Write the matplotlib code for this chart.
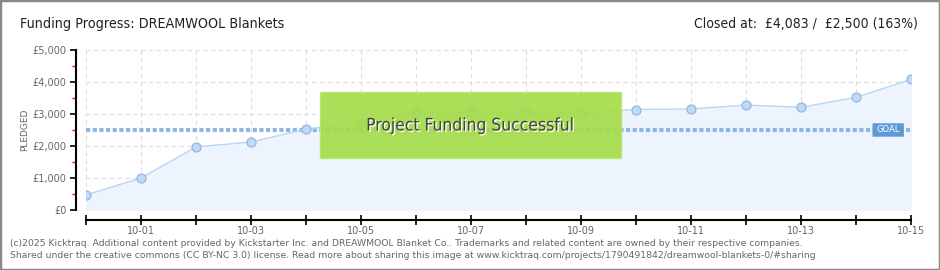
import matplotlib
matplotlib.use("Agg")
from matplotlib import pyplot as plt
from matplotlib.patches import Rectangle, FancyBboxPatch
import matplotlib.patheffects as pe

# daily pledged totals (GBP)
days = ['09-30', '10-01', '10-02', '10-03', '10-04', '10-05', '10-06', '10-07',
        '10-08', '10-09', '10-10', '10-11', '10-12', '10-13', '10-14', '10-15']
pledged = [470, 1000, 1970, 2125, 2530, 2720, 3030, 3060,
           3060, 3030, 3140, 3160, 3280, 3210, 3520, 4083]
goal = 2500
yticks = [0, 1000, 2000, 3000, 4000, 5000]
ytick_labels = ['£0', '£1,000', '£2,000', '£3,000', '£4,000', '£5,000']

grey = '#666666'
x = list(range(len(days)))

fig = plt.figure(figsize=(9.4, 2.7), dpi=100)
ax = fig.add_axes([86 / 940, 60 / 270, 825 / 940, 160 / 270])

# grey frame round the whole picture
fig.patches.append(Rectangle((0, 0), 1, 1, transform=fig.transFigure, fill=False,
                             edgecolor='#888888', linewidth=2.5))

ax.fill_between(x, pledged, 0, color='#edf4fd', zorder=1)
ax.plot(x, pledged, color='#b9d6f6', linewidth=1, zorder=3)
ax.plot(x, pledged, 'o', markersize=6.5, markerfacecolor='#bfd9f7',
        markeredgecolor='#8fb2da', markeredgewidth=0.8, zorder=4)

# goal line
ax.plot([0, 15], [goal, goal], color='#8fb5e0', linewidth=3,
        linestyle=(0, (1, 0.6)), zorder=2)
ax.add_patch(FancyBboxPatch((14.3, goal - 210), 0.57, 420,
                            boxstyle='round,pad=0,rounding_size=0.05',
                            facecolor='#5b9ad6', edgecolor='none', zorder=5))
ax.text(14.585, goal, 'GOAL', color='white', fontsize=6, ha='center',
        va='center', zorder=6)

# success banner
ax.add_patch(Rectangle((4.25, 1625), 5.48, 2065, facecolor='#a5dc4a',
                       edgecolor='#b8e86a', alpha=0.92, zorder=7))
ax.text(6.99, 2640, 'Project Funding Successful', fontsize=12.5, color='#444444',
        ha='center', va='center', fontstretch='condensed', zorder=8,
        path_effects=[pe.withSimplePatchShadow(offset=(1, -1), shadow_rgbFace='white',
                                               alpha=1)])

ax.set_xlim(0, 15)
ax.set_ylim(0, 5000)
ax.set_facecolor('none')

ax.grid(True, color='#dddddd', linestyle=(0, (4, 3)), linewidth=0.8, zorder=0)
ax.set_axisbelow(True)

ax.set_xticks(x)
ax.set_xticklabels([d if i % 2 == 1 else '' for i, d in enumerate(days)])
ax.set_yticks(yticks)
ax.set_yticklabels(ytick_labels)
ax.set_yticks([500, 1500, 2500, 3500, 4500], minor=True)
ax.tick_params(axis='y', which='major', direction='out', length=4, width=1.2,
               color='black', pad=3, labelsize=7, labelcolor=grey)
ax.tick_params(axis='y', which='minor', direction='out', length=3, width=1,
               color='red')
ax.tick_params(axis='x', direction='inout', length=7, width=1.2, color='black',
               pad=1, labelsize=7, labelcolor=grey)

for s in ['top', 'right']:
    ax.spines[s].set_visible(False)
ax.spines['left'].set_position(('outward', 7.2))
ax.spines['bottom'].set_position(('outward', 7.2))
ax.spines['left'].set_linewidth(1.5)
ax.spines['bottom'].set_linewidth(1.5)

ax.set_ylabel('PLEDGED', fontsize=6.5, color=grey)
ax.yaxis.set_label_coords(-57 / 825, 0.5)

fig.text(20 / 940, 1 - 24 / 270, 'Funding Progress: DREAMWOOL Blankets',
         fontsize=10.3, color='#222222', va='center', fontstretch='condensed')
fig.text(918 / 940, 1 - 24 / 270, 'Closed at:  £4,083 /  £2,500 (163%)',
         fontsize=10, color='#222222', va='center', ha='right',
         fontstretch='condensed')

fig.text(10 / 940, 1 - 243 / 270,
         '(c)2025 Kicktraq. Additional content provided by Kickstarter Inc. and '
         'DREAWMOOL Blanket Co.. Trademarks and related content are owned by their '
         'respective companies.', fontsize=6.7, color='#666666', va='center')
fig.text(10 / 940, 1 - 256 / 270,
         'Shared under the creative commons (CC BY-NC 3.0) license. Read more about '
         'sharing this image at www.kicktraq.com/projects/1790491842/'
         'dreamwool-blankets-0/#sharing', fontsize=6.7, color='#666666', va='center')

fig.savefig('out.png', dpi=100)
